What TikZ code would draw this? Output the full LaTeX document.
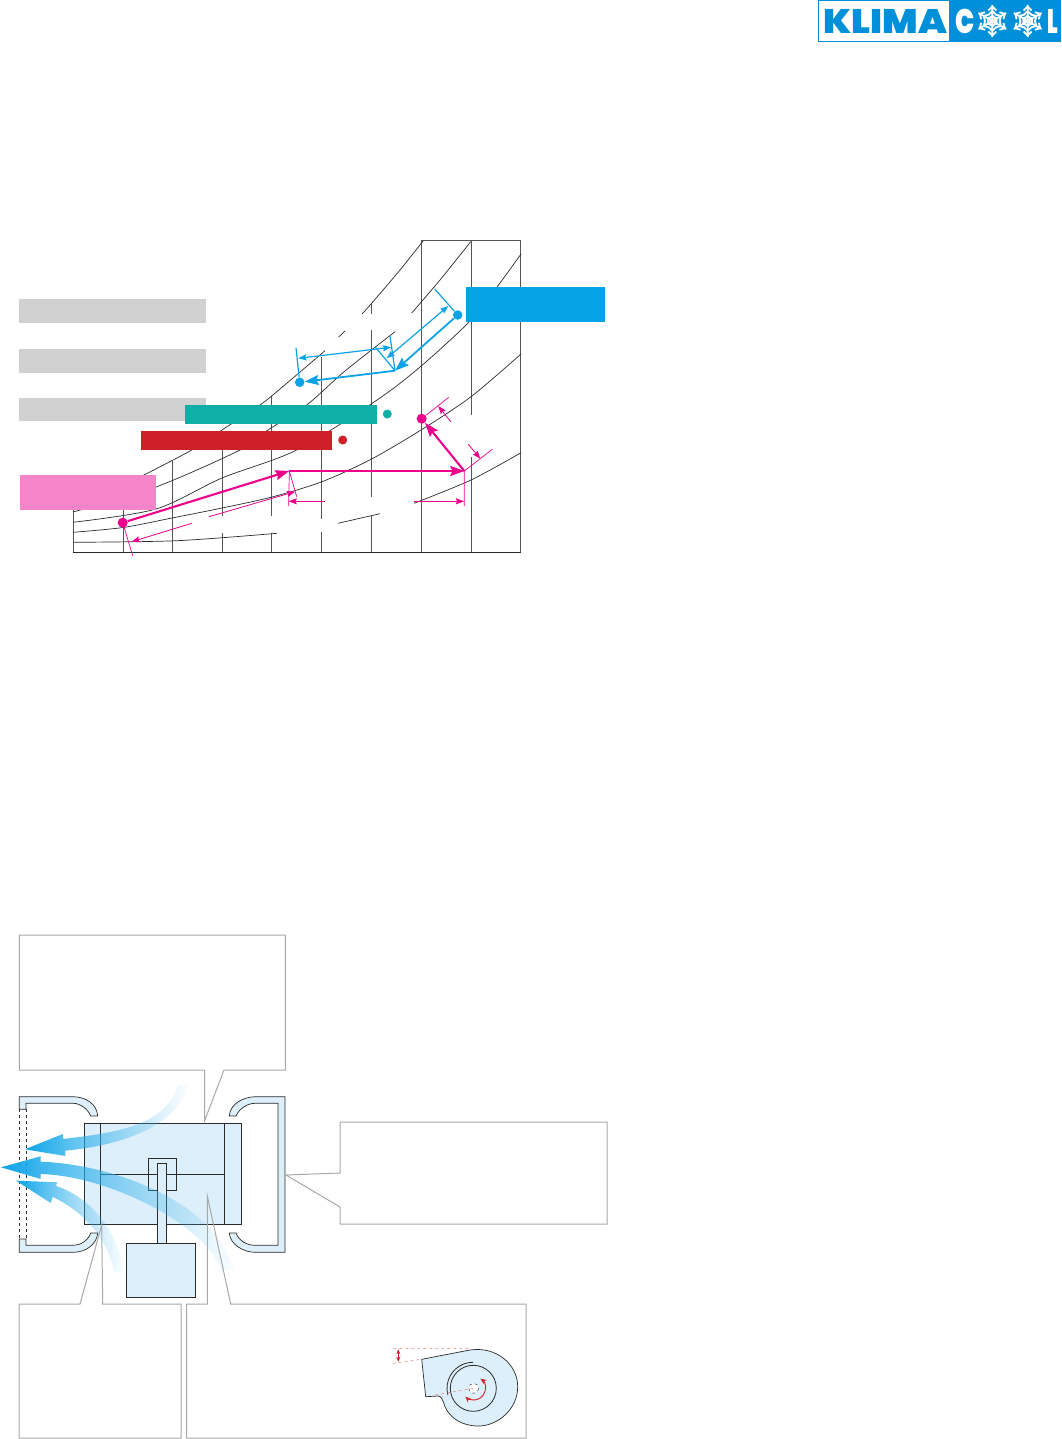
\documentclass[tikz,border=0pt]{standalone}
\usepackage{fontspec}
\setmainfont{DejaVu Sans}
\newfontfamily\logofont{Poppins Black}
\usetikzlibrary{arrows.meta,fadings,positioning}
\definecolor{greybar}{HTML}{D1D1D1}
\definecolor{tealbar}{HTML}{0FAFA8}
\definecolor{redbar}{HTML}{D02027}
\definecolor{pinkbar}{HTML}{F584C8}
\definecolor{bluebar}{HTML}{05A2E6}
\definecolor{magline}{HTML}{EC008C}
\definecolor{cyanline}{HTML}{0BA3E8}
\definecolor{panel}{HTML}{DDEFFA}
\definecolor{logoblue}{HTML}{0090DA}
\definecolor{callout}{HTML}{A8A8A8}
\definecolor{inkline}{HTML}{2B2B2B}
\tikzfading[name=tailfade, left color=transparent!0, middle color=transparent!35, right color=transparent!97]
\tikzset{
  bar/.style={rectangle,inner sep=0pt,outer sep=0pt},
  dot/.style={circle,inner sep=0pt,minimum size=8pt},
  grid/.style={color=inkline!80,line width=0.7pt},
  sat/.style={color=inkline,line width=0.7pt},
  thickmag/.style={color=magline,line width=2.1pt,-{Stealth[length=14pt,width=10pt,inset=2pt]}},
  thinmag/.style={color=magline,line width=0.7pt},
  dimmag/.style={color=magline,line width=0.8pt,-{Stealth[length=8pt,width=6pt,inset=1pt]}},
  thickcy/.style={color=cyanline,line width=1.8pt,-{Stealth[length=14pt,width=10pt,inset=2pt]}},
  thincy/.style={color=cyanline,line width=1.2pt},
  dimcy/.style={color=cyanline,line width=1.2pt,{Stealth[length=8pt,width=6pt,inset=1pt]}-{Stealth[length=8pt,width=6pt,inset=1pt]}},
  duct/.style={fill=panel,draw=inkline,line width=0.7pt},
  note/.style={draw=callout,line width=1pt},
  flow/.style={left color=cyanline,right color=cyanline!70,path fading=tailfade}
}
\newcommand{\flake}[2]{
  \foreach \a in {0,60,...,300} {
    \draw [white,line width=1.8pt,shift={(#1,#2)},rotate=\a] (0,0) -- (0,16)
      (-4,6) -- (0,10) -- (4,6) (-4,10.5) -- (0,14.5) -- (4,10.5) (-3,2.5) -- (0,5.5) -- (3,2.5);
  }
}
\begin{document}
\begin{tikzpicture}[x=1pt,y=-1pt]
  \useasboundingbox (0,0) rectangle (1061,1439);

  \node (logowhite) [bar,draw=logoblue,line width=0.8pt,minimum width=131,minimum height=40.5] at (884,20.9) {};
  \node (logoblue) [bar,fill=logoblue,minimum width=112,minimum height=41.3] at (1005,20.9) {};
  \node (klima) [inner sep=0pt,text=logoblue,xscale=1.1,font=\fontsize{34}{34}\logofont] at (885.5,21) {KLIMA};
  \node (logoc) [inner sep=0pt,text=white,xscale=0.75,font=\fontsize{34}{34}\logofont] at (965.5,21) {C};
  \node (logol) [inner sep=0pt,text=white,xscale=0.62,font=\fontsize{34}{34}\logofont,anchor=west] at (1047,21) {L};
  \flake{992.3}{21}
  \flake{1027.7}{21}

  \draw [grid] (73,500) -- (73,552.3);
  \draw [grid] (123,500) -- (123,552.3);
  \draw [grid] (172.3,460.7) -- (172.3,552.3);
  \draw [grid] (222,450) -- (222,516) (222,533) -- (222,552.3);
  \draw [grid] (271.7,396) -- (271.7,516) (271.7,533) -- (271.7,552.3);
  \draw [grid] (321.7,357) -- (321.7,519) (321.7,532) -- (321.7,552.3);
  \draw [grid] (371.3,304) -- (371.3,314) (371.3,330) -- (371.3,497) (371.3,516) -- (371.3,552.3);
  \draw [grid] (421.3,240.7) -- (421.3,552.3);
  \draw [grid] (471.3,240.7) -- (471.3,415) (471.3,457) -- (471.3,552.3);
  \draw [grid] (520.7,240.7) -- (520.7,552.3);
  \draw [grid] (421.3,240.7) -- (520.7,240.7);
  \draw [color=inkline,line width=0.9pt] (72.7,552.3) -- (521,552.3);

  \draw [sat] plot [smooth] coordinates {(73,542.3) (177,540.7) (277,533.3)};
  \draw [sat] plot [smooth] coordinates {(338,523.3) (380,513.7)};
  \draw [sat] plot [smooth] coordinates {(414,503.3) (471,480) (521,452.7)};
  \draw [sat] plot [smooth] coordinates {(73,532.3) (123,527.5) (172,518) (222,508) (272,497) (322,481.7) (371,459.3) (421,430) (471,396.7) (521,354)};
  \draw [sat] plot [smooth] coordinates {(73,522.3) (156,509) (222,478) (296.7,450) (377,400) (420,367) (468,323) (497,287) (521,254)};
  \draw [sat] plot [smooth] coordinates {(73,512) (156,487) (240,450) (268,430) (306.7,405) (345,371) (395,331.7)};
  \draw [sat] plot [smooth] coordinates {(411.7,313) (440,280) (470.7,241.7)};
  \draw [sat] plot [smooth] coordinates {(130,482) (144,475) (191.7,450) (222,430) (260,405) (280,389) (325,350.7)};
  \draw [sat] (338.7,337) -- (345,331);
  \draw [sat] plot [smooth] coordinates {(362,314) (371,304) (400,270) (423,241)};

  \node (greyone) [bar,fill=greybar,minimum width=187,minimum height=23.7] at (112.5,311) {};
  \node (greytwo) [bar,fill=greybar,minimum width=187,minimum height=24] at (112.5,361) {};
  \node (greythree) [bar,fill=greybar,minimum width=187,minimum height=23] at (112.5,409.5) {};
  \node (tealtag) [bar,fill=tealbar,minimum width=192,minimum height=19] at (281,414.5) {};
  \node (redtag) [bar,fill=redbar,minimum width=191,minimum height=19] at (236.5,440.5) {};
  \node (pinktag) [bar,fill=pinkbar,minimum width=136,minimum height=35] at (88,492.5) {};
  \node (bluetag) [bar,fill=bluebar,minimum width=139,minimum height=35] at (535.5,304.5) {};

  \node (tealdot) [dot,fill=tealbar,minimum size=9pt] at (387.3,414) {};
  \node (reddot) [dot,fill=redbar,minimum size=9pt] at (342.7,440) {};

  \node (inlet) [dot,fill=magline,minimum size=10pt] at (122.7,522.7) {};
  \node (outlet) [dot,fill=magline,minimum size=10pt] at (421.7,418.7) {};
  \coordinate (heatA) at (289.3,471);
  \coordinate (heatB) at (464.3,471);
  \draw [thickmag] (inlet) -- (heatA);
  \draw [thickmag] (heatA) -- (heatB);
  \draw [thickmag] (heatB) -- (outlet);
  \draw [thinmag] (heatA) -- (288.7,506) (heatB) -- (464.3,506);
  \draw [thinmag] (heatA) -- (296.7,496.7) (inlet) -- (132.7,555.7);
  \draw [thinmag] (heatB) -- (492.3,449.3) (outlet) -- (448.7,397.3);
  \coordinate (dimA) at (191.7,523.3);
  \coordinate (dimB) at (131.7,541.7);
  \coordinate (dimC) at (209,516.7);
  \coordinate (dimD) at (295,491.7);
  \draw [dimmag] (dimA) -- (dimB);
  \draw [dimmag] (dimC) -- (dimD);
  \coordinate (dimE) at (325,501.3);
  \coordinate (dimF) at (288.7,501.3);
  \coordinate (dimG) at (414,501.3);
  \coordinate (dimH) at (464,501.3);
  \draw [dimmag] (dimE) -- (dimF);
  \draw [dimmag] (dimG) -- (dimH);
  \coordinate (dimI) at (468.3,444.3);
  \coordinate (dimJ) at (480.3,458.7);
  \coordinate (dimK) at (450.7,421.7);
  \coordinate (dimL) at (438.3,406);
  \draw [dimmag] (dimI) -- (dimJ);
  \draw [dimmag] (dimK) -- (dimL);

  \node (coilin) [dot,fill=cyanline,minimum size=9.5pt] at (457.7,315) {};
  \node (coilout) [dot,fill=cyanline,minimum size=9.5pt] at (299.7,382.3) {};
  \coordinate (coilmid) at (395,370.7);
  \draw [thickcy] (coilin) -- (coilmid);
  \draw [thickcy] (coilmid) -- (coilout);
  \draw [thincy] (434.7,289) -- (coilin);
  \draw [thincy] (coilmid) -- (375,346.7);
  \draw [thincy] (coilmid) -- (390,336);
  \draw [thincy] (296,348) -- (coilout);
  \coordinate (spanA) at (448.3,306);
  \coordinate (spanB) at (386.7,358.3);
  \coordinate (spanC) at (298.3,358.3);
  \coordinate (spanD) at (391,347.3);
  \draw [dimcy] (spanA) -- (spanB);
  \draw [dimcy] (spanC) -- (spanD);

  \draw [duct] (19.3,1096.7) -- (73.3,1096.7) .. controls (86,1097) and (97,1104) .. (97.7,1116) -- (90.7,1116) .. controls (88,1109) and (80,1103.3) .. (73.3,1103.3) -- (26,1103.3) -- (26,1109.3) -- (19.3,1109.3) -- cycle;
  \draw [duct] (19.3,1239) -- (26,1239) -- (26,1245.3) -- (73.3,1245.3) .. controls (80,1245.3) and (88,1241) .. (90.7,1233) -- (97.7,1233) .. controls (97,1244) and (86,1252.3) .. (73.3,1252.3) -- (19.3,1252.3) -- cycle;
  \draw [duct] (285,1096.7) -- (255,1096.7) .. controls (243,1097) and (230,1104) .. (229.3,1116) -- (236,1116) .. controls (239,1109) and (247,1103.3) .. (255,1103.3) -- (278,1103.3) -- (278,1245.3) -- (255,1245.3) .. controls (247,1245.3) and (239,1241) .. (236,1233) -- (229.3,1233) .. controls (230,1244) and (243,1252.3) .. (255,1252.3) -- (285,1252.3) -- cycle;
  \draw [color=inkline,line width=0.6pt,dashed] (19.3,1109.3) -- (19.3,1239) (26,1109.3) -- (26,1239);

  \draw [duct] (84.7,1123) rectangle (241.3,1224.3);
  \draw [color=inkline,line width=0.7pt] (100.7,1123) -- (100.7,1224.3) (224.3,1123) -- (224.3,1224.3) (100.7,1174) -- (224.3,1174);
  \draw [duct] (148.3,1158.7) rectangle (176,1190);
  \draw [color=inkline,line width=0.7pt] (148.3,1174) -- (176,1174);
  \draw [duct] (157.7,1163.7) rectangle (166.3,1243.3);
  \draw [duct] (126.7,1243.3) rectangle (195.3,1297.3);

  \shade [flow] (25,1149.3) -- (62.7,1134) -- (63.3,1139) .. controls (110,1133) and (165,1128) .. (178.3,1085) -- (187.7,1085) .. controls (178,1125) and (125,1145) .. (65.3,1150.7) -- (65.3,1156) -- cycle;
  \shade [flow] (1,1167.3) -- (40.7,1156.3) -- (40.7,1161.7) .. controls (110,1164) and (215,1200) .. (234,1270) -- (221.7,1270) .. controls (205,1225) and (110,1176) .. (40.7,1174) -- (40.7,1179) -- cycle;
  \shade [flow] (16,1180.7) -- (57.3,1182.3) -- (56,1186) .. controls (90,1197) and (118,1230) .. (123.3,1271.7) -- (114,1271.7) .. controls (108,1240) and (85,1212) .. (52.7,1197) -- (50.7,1203) -- cycle;

  \draw [note] (19.3,935) -- (285.3,935) -- (285.3,1070) -- (224,1070) -- (204.5,1121) -- (204.5,1070) -- (19.3,1070) -- cycle;
  \draw [note] (340,1122) -- (607,1122) -- (607,1224) -- (340,1224) -- (340,1207) -- (286,1175) -- (340,1173) -- cycle;
  \draw [note] (19,1304) -- (80,1304) -- (101.7,1225) -- (102.7,1304) -- (181,1304) -- (181,1438) -- (19,1438) -- cycle;
  \draw [note] (186.5,1304) -- (207.3,1304) -- (207.3,1196) -- (230.7,1304) -- (526,1304) -- (526,1438) -- (186.5,1438) -- cycle;

  \draw [duct] (421.7,1359.3) -- (470,1350) .. controls (497,1346) and (518,1365) .. (517.7,1387) .. controls (517.5,1410) and (497,1426) .. (478.3,1426) .. controls (462,1426) and (450,1418) .. (445,1406.7) .. controls (443,1400) and (441,1396) .. (438.3,1396) -- (425.7,1396.7) -- cycle;
  \draw [color=inkline,line width=0.8pt] (473.3,1388.3) circle [radius=23];
  \draw [color=inkline,line width=0.8pt] (473,1362.3) arc [start angle=-90,end angle=-195,radius=26];
  \draw [color=inkline,line width=0.4pt,fill=white,dashed] (473.7,1388.3) circle [radius=5];
  \draw [color=redbar!60,line width=0.5pt,dashed] (393.3,1348.3) -- (470,1348.3) (392.7,1363.3) -- (421.7,1359.3) (435,1395) -- (473.7,1388.3);
  \draw [color=redbar,line width=0.8pt,{Stealth[length=5pt,width=4pt]}-{Stealth[length=5pt,width=4pt]}] (398.3,1349.3) -- (398.3,1361.7);
  \draw [color=redbar,line width=0.9pt,{Stealth[length=6pt,width=5pt]}-{Stealth[length=6pt,width=5pt]}] (480.4,1378.7) arc [start angle=-55,end angle=135,radius=11.7];
\end{tikzpicture}
\end{document}
